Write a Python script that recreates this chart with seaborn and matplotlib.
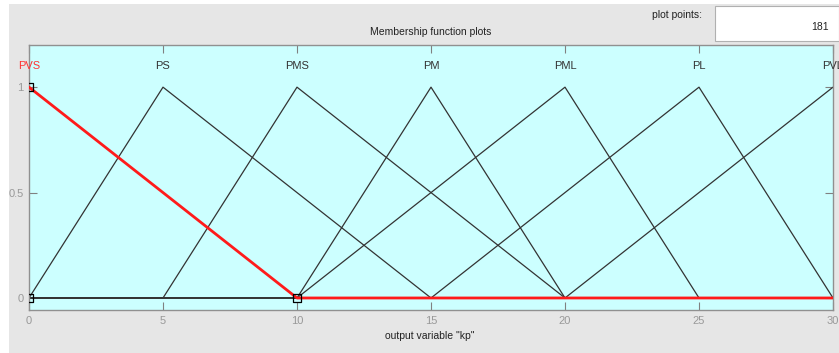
import numpy as np
import pandas as pd
import matplotlib
matplotlib.use("Agg")
import matplotlib.pyplot as plt
from matplotlib.patches import Rectangle
import seaborn as sns

# membership functions of output variable "kp" (triangles a, b, c)
mf_names = ["PVS", "PS", "PMS", "PM", "PML", "PL", "PVL"]
mf_a = [0, 0, 5, 10, 10, 15, 20]
mf_b = [0, 5, 10, 15, 20, 25, 30]
mf_c = [10, 15, 20, 20, 25, 30, 30]
x_range = [0, 30]
selected = "PVS"

x_ticks = [0, 5, 10, 15, 20, 25, 30]
y_ticks = [0, 0.5, 1]

sns.set_theme(style="white")
plt.rcParams["font.family"] = ["Liberation Sans", "DejaVu Sans"]

fig = plt.figure(figsize=(8.39, 3.53), dpi=100, facecolor="white")
fig.patches.append(Rectangle((9 / 839, 0), 1, 1 - 4 / 353, transform=fig.transFigure,
                             facecolor="#e6e6e6", edgecolor="none", zorder=-5))
ax = fig.add_axes([29 / 839, 1 - 310 / 353, 804 / 839, 265 / 353])
ax.set_facecolor("#ccffff")


def vertices(a, b, c):
    xs = [x_range[0], a, b, c, x_range[1]]
    ys = [0, 0, 1, 0, 0]
    if a == b:
        xs, ys = xs[2:], ys[2:]
    if b == c:
        xs, ys = xs[:3], ys[:3]
    return xs, ys


rows = []
for name, a, b, c in zip(mf_names, mf_a, mf_b, mf_c):
    xs, ys = vertices(a, b, c)
    for i, (xv, yv) in enumerate(zip(xs, ys)):
        rows.append({"mf": name, "order": i, "x": xv, "y": yv})
df = pd.DataFrame(rows)

for name in mf_names:
    if name == selected:
        continue
    sub = df[df["mf"] == name]
    sns.lineplot(data=sub, x="x", y="y", ax=ax, color="#333333", linewidth=0.9,
                 sort=False, estimator=None, legend=False)

sub = df[df["mf"] == selected]
sns.lineplot(data=sub, x="x", y="y", ax=ax, color="#ff1a1a", linewidth=2.0,
             sort=False, estimator=None, legend=False, zorder=5)

# parameter handles of the selected function
i_sel = mf_names.index(selected)
handles = pd.DataFrame({"x": [mf_a[i_sel], mf_b[i_sel], mf_c[i_sel]], "y": [0, 1, 0]})
sns.scatterplot(data=handles, x="x", y="y", ax=ax, marker="s", s=28,
                facecolor="none", edgecolor="black", linewidth=0.9, zorder=6, legend=False)

for name, b in zip(mf_names, mf_b):
    ax.text(b, 1.1, name, ha="center", va="center", fontsize=8,
            color="#ff3333" if name == selected else "#333333", clip_on=False)

ax.set_xlim(x_range)
ax.set_ylim(-0.057, 1.2)
ax.set_xticks(x_ticks)
ax.set_xticklabels([str(t) for t in x_ticks])
ax.set_yticks(y_ticks)
ax.set_yticklabels(["0", "0.5", "1"])
ax.tick_params(direction="in", length=6, width=0.8, color="#808080", labelcolor="#999999",
               labelsize=8, top=True, right=True, bottom=True, left=True, pad=4)
for s in ax.spines.values():
    s.set_color("#909090")
    s.set_linewidth(1.0)
ax.set_xlabel("")
ax.set_ylabel("")

fig.text(431 / 839, 1 - 32 / 353, "Membership function plots", ha="center", va="center",
         fontsize=7.5, color="#222222")
fig.text(430 / 839, 1 - 336 / 353, 'output variable "kp"', ha="center", va="center",
         fontsize=7.5, color="#222222")
fig.text(702 / 839, 1 - 15 / 353, "plot points:", ha="right", va="center",
         fontsize=7.5, color="#222222")
fig.patches.append(Rectangle((715 / 839, 1 - 41 / 353), 124 / 839, 35 / 353,
                             transform=fig.transFigure, facecolor="white",
                             edgecolor="#b0b0b0", linewidth=0.8, zorder=1))
fig.text(829 / 839, 1 - 27 / 353, "181", ha="right", va="center",
         fontsize=7.5, color="#222222")

fig.savefig("out.png", dpi=100, facecolor=fig.get_facecolor())
